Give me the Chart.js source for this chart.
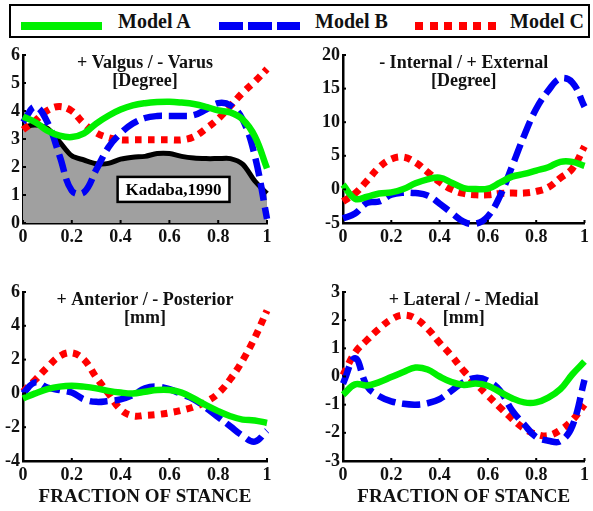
<!DOCTYPE html>
<html>
<head>
<meta charset="utf-8">
<script src="https://cdn.jsdelivr.net/npm/chart.js@4/dist/chart.umd.min.js"></script>
<style>
  html, body { margin:0; padding:0; background:#fff; }
  body { width:593px; height:511px; position:relative; overflow:hidden; font-family:"Liberation Serif", "Times New Roman", serif; }
  canvas { position:absolute; }
  #legend { position:absolute; left:9px; top:4px; width:577px; height:30px; border:2px solid #000; box-sizing:content-box; }
  .lg-sample { position:absolute; height:8px; top:16px; }
  .lg-text { position:absolute; top:0; height:30px; line-height:30px; font-weight:bold; font-size:20px; color:#111; white-space:nowrap; }
</style>
</head>
<body>
<div id="legend"></div>
<canvas id="c1" width="297" height="210" style="left:0;top:40px"></canvas>
<canvas id="c2" width="296" height="210" style="left:297px;top:40px"></canvas>
<canvas id="c3" width="297" height="241" style="left:0;top:270px"></canvas>
<canvas id="c4" width="296" height="241" style="left:297px;top:270px"></canvas>
<script>
// ---------------- DATA ----------------
const seriesNames = ['Model A', 'Model B', 'Model C'];
const stance = [0, 0.05, 0.1, 0.15, 0.2, 0.25, 0.3, 0.35, 0.4, 0.45, 0.5, 0.55, 0.6, 0.65, 0.7, 0.75, 0.8, 0.85, 0.9, 0.95, 1];
const xTicks = [0, 0.2, 0.4, 0.6, 0.8, 1];

// Valgus / Varus [Degree]
const valgusA = [3.8, 3.6, 3.3, 3.12, 3.07, 3.2, 3.55, 3.83, 4.05, 4.2, 4.28, 4.32, 4.33, 4.3, 4.25, 4.15, 4.02, 3.95, 3.7, 3.1, 1.95];
const valgusB = [3.6, 4.15, 3.6, 2.4, 1.15, 1.1, 1.9, 2.7, 3.2, 3.55, 3.75, 3.82, 3.82, 3.82, 3.85, 4.05, 4.28, 4.2, 3.7, 2.4, 0.15];
const valgusC = [3.33, 3.65, 4.02, 4.16, 4.0, 3.55, 3.22, 3.05, 2.97, 2.97, 2.97, 2.97, 2.97, 2.97, 3.08, 3.37, 3.72, 4.18, 4.65, 5.05, 5.5];
const kadaba1990 = [3.42, 3.5, 3.38, 2.9, 2.4, 2.25, 2.12, 2.13, 2.28, 2.35, 2.38, 2.48, 2.48, 2.38, 2.32, 2.3, 2.3, 2.3, 2.1, 1.5, 1.05];
const valgusTicks = [0, 1, 2, 3, 4, 5, 6];
const kadabaLabel = { text: 'Kadaba,1990', x: 0.617, y: 1.2 };

// Internal / External rotation [Degree]
const rotA = [0.7, -1.4, -1.1, -0.6, -0.45, 0.05, 0.9, 1.5, 1.75, 1.0, 0.2, 0.05, 0.1, 1.0, 1.9, 2.3, 2.8, 3.3, 4.1, 4.1, 3.5];
const rotB = [-4.3, -3.6, -2.0, -1.8, -0.8, -0.5, -0.55, -0.9, -2.1, -3.5, -4.8, -5.1, -4.0, -1.0, 3.4, 8.0, 12.0, 14.7, 16.5, 15.9, 12.3];
const rotC = [-1.8, -0.6, 1.3, 3.3, 4.5, 4.8, 4.0, 2.6, 1.1, 0.0, -0.6, -0.8, -0.8, -0.6, -0.55, -0.55, -0.3, 0.3, 1.7, 3.1, 6.4];
const rotTicks = [-5, 0, 5, 10, 15, 20];

// Anterior / Posterior [mm]
const apA = [-0.3, 0.0, 0.25, 0.4, 0.45, 0.4, 0.3, 0.15, 0.05, 0.0, 0.1, 0.2, 0.2, 0.05, -0.3, -0.7, -1.05, -1.35, -1.55, -1.6, -1.75];
const apB = [0.0, 0.65, 0.35, 0.2, 0.05, -0.35, -0.5, -0.45, -0.35, -0.1, 0.3, 0.4, 0.25, -0.05, -0.35, -0.85, -1.4, -1.95, -2.5, -2.85, -2.2];
const apC = [0.1, 0.8, 1.55, 2.2, 2.4, 2.0, 0.95, 0.0, -0.95, -1.33, -1.3, -1.25, -1.15, -1.0, -0.8, -0.5, 0.0, 0.85, 1.95, 3.3, 4.9];
const apTicks = [-4, -2, 0, 2, 4, 6];

// Lateral / Medial [mm]
const mlA = [-0.65, -0.28, -0.32, -0.2, -0.02, 0.16, 0.32, 0.25, 0.0, -0.2, -0.3, -0.25, -0.33, -0.55, -0.77, -0.92, -0.92, -0.75, -0.45, 0.08, 0.53];
const mlB = [-0.25, 0.65, -0.35, -0.7, -0.88, -0.97, -1.0, -0.95, -0.8, -0.5, -0.2, -0.05, -0.15, -0.5, -1.2, -1.7, -2.15, -2.28, -2.3, -1.75, -0.12];
const mlC = [0.05, 0.85, 1.3, 1.7, 2.03, 2.18, 2.06, 1.7, 1.2, 0.73, 0.2, -0.25, -0.68, -1.1, -1.5, -1.85, -2.05, -2.1, -1.9, -1.55, -1.0];
const mlTicks = [-3, -2, -1, 0, 1, 2, 3];

const panelTitles = {
  valgus: ['+ Valgus / - Varus', '[Degree]'],
  rot: ['- Internal / + External', '[Degree]'],
  ap: ['+ Anterior / - Posterior', '[mm]'],
  ml: ['+ Lateral / - Medial', '[mm]']
};
const xTitle = 'FRACTION OF STANCE';

// ---------------- STYLE ----------------
const FONT = '"Liberation Serif", "Times New Roman", serif';
const GREEN = '#00f000', BLUE = '#0000f5', RED = '#ff0000';
const styles = [
  { color: GREEN, width: 6.5, dash: [], order: 1 },
  { color: BLUE, width: 6.5, dash: [18, 7], order: 2 },
  { color: RED, width: 7, dash: [7, 6], order: 3 }
];

// Legend (HTML)
(function buildLegend() {
  const lg = document.getElementById('legend');
  const samplesX = [10, 208, 404];
  const textX = [107, 304, 499];
  const bgs = [
    GREEN,
    'repeating-linear-gradient(to right, ' + BLUE + ' 0 24px, transparent 24px 29px)',
    'repeating-linear-gradient(to right, ' + RED + ' 0 8px, transparent 8px 14.6px)'
  ];
  seriesNames.forEach((n, i) => {
    const s = document.createElement('div');
    s.className = 'lg-sample';
    s.style.left = samplesX[i] + 'px';
    s.style.width = (i === 2 ? 82 : 81) + 'px';
    s.style.background = bgs[i];
    lg.appendChild(s);
    const t = document.createElement('div');
    t.className = 'lg-text';
    t.style.left = textX[i] + 'px';
    t.textContent = n;
    lg.appendChild(t);
  });
})();

const pts = arr => stance.map((x, i) => ({ x: x, y: arr[i] }));

const panelPlugin = {
  id: 'panelDeco',
  afterDatasetsDraw(chart, args, opts) {
    const ctx = chart.ctx;
    const ca = chart.chartArea;
    // Kadaba label box
    if (opts.box) {
      const xs = chart.scales.x, ys = chart.scales.y;
      const cx = xs.getPixelForValue(opts.box.x);
      const cy = ys.getPixelForValue(opts.box.y);
      ctx.save();
      ctx.font = 'bold 17px ' + FONT;
      const w = ctx.measureText(opts.box.text).width + 16;
      const h = 25;
      ctx.fillStyle = '#fff';
      ctx.fillRect(cx - w / 2, cy - h / 2, w, h);
      ctx.lineWidth = 2.5;
      ctx.strokeStyle = '#000';
      ctx.strokeRect(cx - w / 2, cy - h / 2, w, h);
      ctx.fillStyle = '#000';
      ctx.textAlign = 'center';
      ctx.textBaseline = 'middle';
      ctx.fillText(opts.box.text, cx, cy + 1);
      ctx.restore();
    }
  },
  afterDraw(chart, args, opts) {
    const ctx = chart.ctx;
    const ca = chart.chartArea;
    ctx.save();
    // inward tick marks
    ctx.strokeStyle = '#000';
    ctx.lineWidth = 2;
    const xs = chart.scales.x, ys = chart.scales.y;
    xs.ticks.forEach(t => {
      const px = xs.getPixelForValue(t.value);
      ctx.beginPath(); ctx.moveTo(px, ca.bottom); ctx.lineTo(px, ca.bottom - 3); ctx.stroke();
    });
    ys.ticks.forEach(t => {
      const py = ys.getPixelForValue(t.value);
      ctx.beginPath(); ctx.moveTo(ca.left, py); ctx.lineTo(ca.left + 3, py); ctx.stroke();
    });
    // panel title
    if (opts.lines) {
      ctx.fillStyle = '#111';
      ctx.font = 'bold 18px ' + FONT;
      ctx.textAlign = 'center';
      ctx.textBaseline = 'middle';
      const cx = (ca.left + ca.right) / 2;
      ctx.fillText(opts.lines[0], cx, ca.top + 8);
      ctx.fillText(opts.lines[1], cx, ca.top + 26);
    }
    ctx.restore();
  }
};

function makeChart(id, series, yTicks, title, cfg) {
  const datasets = series.map((arr, i) => ({
    label: seriesNames[i],
    data: pts(arr),
    borderColor: styles[i].color,
    borderWidth: styles[i].width,
    borderDash: styles[i].dash,
    borderCapStyle: 'butt',
    borderJoinStyle: 'round',
    pointRadius: 0,
    tension: 0.4,
    fill: false,
    clip: false,
    order: styles[i].order
  }));
  if (cfg.reference) {
    datasets.push({
      label: 'Kadaba,1990',
      data: pts(cfg.reference),
      borderColor: '#000',
      borderWidth: 5,
      backgroundColor: '#a0a0a0',
      fill: 'origin',
      pointRadius: 0,
      tension: 0.3,
      clip: false,
      order: 10
    });
  }
  const tickFont = { family: FONT, size: 18, weight: 'bold' };
  return new Chart(document.getElementById(id), {
    type: 'line',
    data: { datasets },
    options: {
      responsive: false,
      animation: false,
      events: [],
      layout: { padding: { top: cfg.padTop, right: cfg.padRight, left: 0, bottom: 0 } },
      plugins: {
        legend: { display: false },
        tooltip: { enabled: false },
        panelDeco: { lines: title, box: cfg.box || null }
      },
      scales: {
        x: {
          type: 'linear', min: 0, max: 1,
          afterBuildTicks: s => { s.ticks = xTicks.map(v => ({ value: v })); },
          afterFit: s => { s.height = cfg.xHeight; },
          grid: { display: false, drawTicks: false, tickLength: 0 },
          border: { display: true, color: '#000', width: 2.5 },
          ticks: { color: '#111', font: tickFont, padding: 4, maxRotation: 0, autoSkip: false, callback: v => String(v) },
          title: cfg.xTitle ? { display: true, text: xTitle, color: '#111', font: { family: FONT, size: 19, weight: 'bold' }, padding: { top: 0, bottom: 3 } } : { display: false }
        },
        y: {
          type: 'linear', min: yTicks[0], max: yTicks[yTicks.length - 1],
          afterBuildTicks: s => { s.ticks = yTicks.map(v => ({ value: v })); },
          afterFit: s => { s.width = cfg.yWidth; },
          grid: { display: false, drawTicks: false, tickLength: 0 },
          border: { display: true, color: '#000', width: 2.5 },
          ticks: { color: '#111', font: tickFont, padding: 3, autoSkip: false, callback: v => String(v) }
        }
      }
    },
    plugins: [panelPlugin]
  });
}

makeChart('c1', [valgusA, valgusB, valgusC], valgusTicks, panelTitles.valgus,
  { padTop: 15, padRight: 30, xHeight: 27, yWidth: 23, reference: kadaba1990, box: kadabaLabel });
makeChart('c2', [rotA, rotB, rotC], rotTicks, panelTitles.rot,
  { padTop: 15, padRight: 6, xHeight: 27, yWidth: 46 });
makeChart('c3', [apA, apB, apC], apTicks, panelTitles.ap,
  { padTop: 22, padRight: 30, xHeight: 50, yWidth: 23, xTitle: true });
makeChart('c4', [mlA, mlB, mlC], mlTicks, panelTitles.ml,
  { padTop: 22, padRight: 6, xHeight: 50, yWidth: 46, xTitle: true });
</script>
</body>
</html>
